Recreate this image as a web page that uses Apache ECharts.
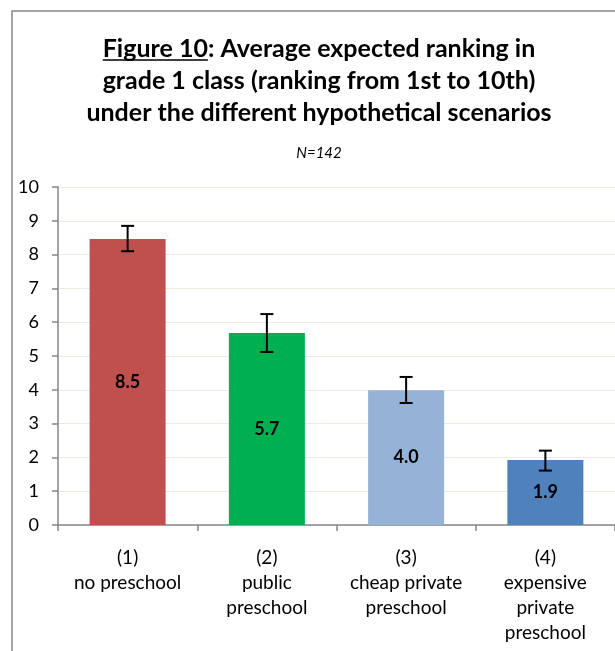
<!DOCTYPE html>
<html>
<head>
<meta charset="utf-8">
<script src="https://cdn.jsdelivr.net/npm/echarts@6/dist/echarts.min.js"></script>
<style>
  html, body { margin: 0; padding: 0; background: #fff; }
  #main { width: 615px; height: 651px; }
</style>
</head>
<body>
<div id="main"></div>
<script>
// data
var categories = ['(1)\nno preschool', '(2)\npublic\npreschool', '(3)\ncheap private\npreschool', '(4)\nexpensive\nprivate\npreschool'];
var means = [8.46, 5.68, 3.99, 1.92];
var errLow = [8.1, 5.12, 3.61, 1.61];
var errHigh = [8.85, 6.24, 4.38, 2.2];
var yTicks = [0, 10, 1]; // min, max, step

var titleLines = ['Figure 10: Average expected ranking in', 'grade 1 class (ranking from 1st to 10th)', 'under the different hypothetical scenarios'];
var barColors = ['#C0504D', '#00B050', '#95B3D7', '#4F81BD'];
var font = 'Lato, "Open Sans", sans-serif';
var titleSize = 25;
var titleX = 319;

var myChart = echarts.init(document.getElementById('main'));

var option = {
    animation: false,
    textStyle: { fontFamily: font },
    title: [
        {
            text: titleLines.join('\n'),
            left: titleX,
            top: 33,
            padding: 0,
            textAlign: 'center',
            textStyle: { fontFamily: font, fontSize: titleSize, fontWeight: 'bold', color: '#000', lineHeight: 32 }
        },
        {
            text: 'N=142',
            left: titleX,
            top: 146,
            padding: 0,
            textAlign: 'center',
            textStyle: { fontFamily: font, fontSize: 15, fontStyle: 'italic', fontWeight: 'normal', color: '#000' }
        }
    ],
    graphic: [
        // outer chart frame, cut off at right and bottom
        { id: 'frame', type: 'rect', shape: { x: 12, y: 11, width: 700, height: 700 }, style: { fill: null, stroke: '#868686', lineWidth: 1.5 }, silent: true }
    ],
    grid: { left: 58, right: -12, top: 187, bottom: 126 },
    xAxis: {
        type: 'category',
        data: categories,
        axisLine: { lineStyle: { color: '#868686', width: 1.5 } },
        axisTick: { show: true, length: 6, lineStyle: { color: '#868686', width: 1.5 } },
        axisLabel: { color: '#000', fontSize: 19, lineHeight: 25, margin: 20, interval: 0, fontFamily: font }
    },
    yAxis: {
        type: 'value',
        min: yTicks[0],
        max: yTicks[1],
        interval: yTicks[2],
        axisLine: { show: true, lineStyle: { color: '#868686', width: 1.5 } },
        axisTick: { show: true, length: 6, lineStyle: { color: '#868686', width: 1.5 } },
        axisLabel: { color: '#000', fontSize: 18, margin: 19, fontFamily: font },
        splitLine: { lineStyle: { color: '#EBEBE0', width: 1 } }
    },
    series: [
        {
            type: 'bar',
            barWidth: 76,
            data: means.map(function (v, i) {
                return { value: v, itemStyle: { color: barColors[i] } };
            }),
            label: {
                show: true,
                position: 'inside',
                color: '#000',
                fontWeight: 'bold',
                fontSize: 18,
                fontFamily: font,
                formatter: function (p) { return p.value.toFixed(1); }
            }
        },
        {
            type: 'custom',
            z: 5,
            data: errLow.map(function (lo, i) { return [i, lo, errHigh[i]]; }),
            renderItem: function (params, api) {
                var lo = api.coord([api.value(0), api.value(1)]);
                var hi = api.coord([api.value(0), api.value(2)]);
                var w = 6.5;
                var st = { stroke: '#000', lineWidth: 2 };
                return {
                    type: 'group',
                    children: [
                        { type: 'line', shape: { x1: hi[0], y1: hi[1], x2: lo[0], y2: lo[1] }, style: st },
                        { type: 'line', shape: { x1: hi[0] - w, y1: hi[1], x2: hi[0] + w, y2: hi[1] }, style: st },
                        { type: 'line', shape: { x1: lo[0] - w, y1: lo[1], x2: lo[0] + w, y2: lo[1] }, style: st }
                    ]
                };
            }
        }
    ]
};

myChart.setOption(option);

// underline "Figure 10", measured with the title font
function addUnderline() {
    var ctx = document.createElement('canvas').getContext('2d');
    ctx.font = 'bold ' + titleSize + 'px ' + font;
    var line1W = ctx.measureText(titleLines[0]).width;
    var figW = ctx.measureText('Figure 10').width;
    var x0 = titleX - line1W / 2;
    myChart.setOption({
        graphic: [
            { id: 'ul', type: 'line', shape: { x1: x0, y1: 60, x2: x0 + figW, y2: 60 }, style: { stroke: '#000', lineWidth: 1.5 }, silent: true, z: 10 }
        ]
    });
}
if (document.fonts && document.fonts.load) {
    document.fonts.load('bold ' + titleSize + 'px Lato').then(function () {
        myChart.setOption(option, true);
        addUnderline();
    }, addUnderline);
} else {
    addUnderline();
}
</script>
</body>
</html>
